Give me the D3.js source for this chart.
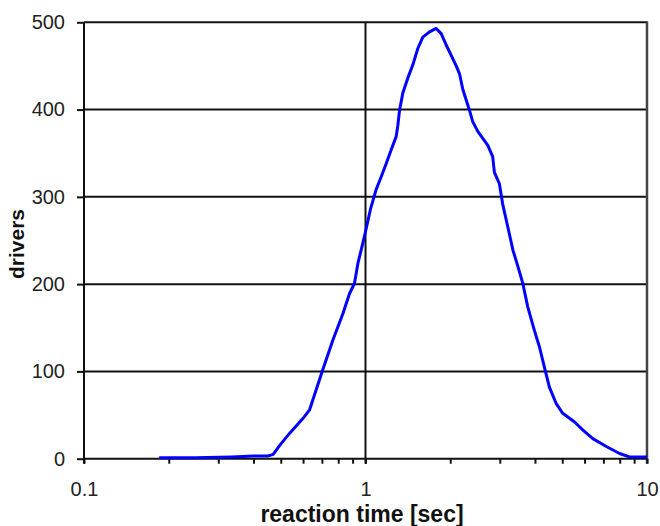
<!DOCTYPE html>
<html>
<head>
<meta charset="utf-8">
<script src="https://cdn.jsdelivr.net/npm/d3@7"></script>
<style>
  html, body { margin: 0; padding: 0; background: #fff; }
  svg { display: block; }
  text { font-family: Arial, "Liberation Sans", sans-serif; }
</style>
</head>
<body>
<svg id="chart" width="660" height="526"></svg>
<script>
// ---- data ----
const reactionTime = [0.185, 0.25, 0.334, 0.40, 0.449, 0.47, 0.495, 0.537, 0.599, 0.633, 0.668, 0.705,
  0.766, 0.831, 0.877, 0.914, 0.94, 0.965, 1.0, 1.04, 1.09, 1.137, 1.184, 1.234, 1.285, 1.303, 1.321,
  1.357, 1.413, 1.472, 1.534, 1.598, 1.688, 1.783, 1.857, 1.935, 2.016, 2.1, 2.158, 2.217, 2.279,
  2.342, 2.405, 2.506, 2.61, 2.72, 2.83, 2.87, 2.99, 3.07, 3.20, 3.34, 3.48, 3.62, 3.77, 3.98, 4.15,
  4.32, 4.5, 4.76, 5.02, 5.53, 5.91, 6.42, 7.17, 7.99, 8.66, 10];
const drivers = [1, 1, 2, 3, 3, 5, 15, 29, 46, 56, 79, 102,
  136, 166, 189, 201, 224, 239, 260, 285, 308, 323, 338, 354, 369, 382, 399,
  419, 436, 451, 470, 483, 489, 493, 487, 474, 462, 450, 441, 423, 411,
  399, 386, 375, 367, 359, 346, 328, 315, 292, 266, 239, 220, 201, 174, 147, 128,
  105, 82, 63, 52, 42, 33, 23, 14, 6, 2, 2];
const xMajorTicks = [0.1, 1, 10];
const xTickLabels = ["0.1", "1", "10"];
const xMinorTicks = [0.2, 0.3, 0.4, 0.5, 0.6, 0.7, 0.8, 0.9, 2, 3, 4, 5, 6, 7, 8, 9];
const yTicks = [0, 100, 200, 300, 400, 500];
const xTitle = "reaction time [sec]";
const yTitle = "drivers";

// ---- layout ----
const svg = d3.select("#chart");
const L = 84, R = 647, T = 22.3, B = 458.7;
const x = d3.scaleLog().domain([0.1, 10]).range([L, R]);
const y = d3.scaleLinear().domain([0, 500]).range([B, T]);

// horizontal gridlines
svg.append("g").selectAll("line").data(yTicks.filter(d => d > 0)).join("line")
  .attr("x1", L).attr("x2", R).attr("y1", d => y(d)).attr("y2", d => y(d))
  .attr("stroke", "#111").attr("stroke-width", 2);

// vertical gridline at 1
svg.append("line").attr("x1", x(1)).attr("x2", x(1)).attr("y1", T).attr("y2", B + 5)
  .attr("stroke", "#111").attr("stroke-width", 2);

// right border
svg.append("line").attr("x1", R).attr("x2", R).attr("y1", T - 1).attr("y2", B + 5)
  .attr("stroke", "#444").attr("stroke-width", 2.5);

// y axis
const yAxis = d3.axisLeft(y).tickValues(yTicks).tickSize(7).tickPadding(12).tickFormat(d3.format("d"));
const gy = svg.append("g").attr("transform", `translate(${L},0)`).call(yAxis);
gy.select(".domain").remove();
gy.append("line").attr("x1", 0).attr("x2", 0).attr("y1", T).attr("y2", B + 5)
  .attr("stroke", "#111").attr("stroke-width", 2);
gy.selectAll(".tick line").attr("stroke", "#111").attr("stroke-width", 2);
gy.selectAll(".tick text").attr("font-size", 20).attr("fill", "#222")
  .attr("font-family", "Arial, 'Liberation Sans', sans-serif");

// x axis (major)
const xAxis = d3.axisBottom(x).tickValues(xMajorTicks).tickSize(5).tickPadding(18)
  .tickFormat((d, i) => xTickLabels[i]);
const gx = svg.append("g").attr("transform", `translate(0,${B})`).call(xAxis);
gx.select(".domain").remove();
gx.append("line").attr("x1", L).attr("x2", R).attr("y1", 0).attr("y2", 0)
  .attr("stroke", "#111").attr("stroke-width", 2);
gx.selectAll(".tick line").attr("stroke", "#111").attr("stroke-width", 2);
gx.selectAll(".tick text").attr("font-size", 20).attr("fill", "#222")
  .attr("font-family", "Arial, 'Liberation Sans', sans-serif");

// minor ticks
const xMinor = d3.axisBottom(x).tickValues(xMinorTicks).tickSize(5).tickFormat("");
const gm = svg.append("g").attr("transform", `translate(0,${B})`).call(xMinor);
gm.select(".domain").remove();
gm.selectAll(".tick line").attr("stroke", "#111").attr("stroke-width", 2);

// data line
const line = d3.line().x((d, i) => x(reactionTime[i])).y(d => y(d)).curve(d3.curveLinear);
svg.append("path").datum(drivers).attr("d", line)
  .attr("fill", "none").attr("stroke", "#0000ff").attr("stroke-width", 3)
  .attr("stroke-linejoin", "round");

// axis titles
svg.append("text").attr("x", 362).attr("y", 522).attr("text-anchor", "middle")
  .attr("font-size", 23).attr("font-weight", "bold").attr("fill", "#111").text(xTitle);
svg.append("text").attr("transform", "translate(24,244) rotate(-90)").attr("text-anchor", "middle")
  .attr("font-size", 21).attr("font-weight", "bold").attr("fill", "#111").text(yTitle);
</script>
</body>
</html>
